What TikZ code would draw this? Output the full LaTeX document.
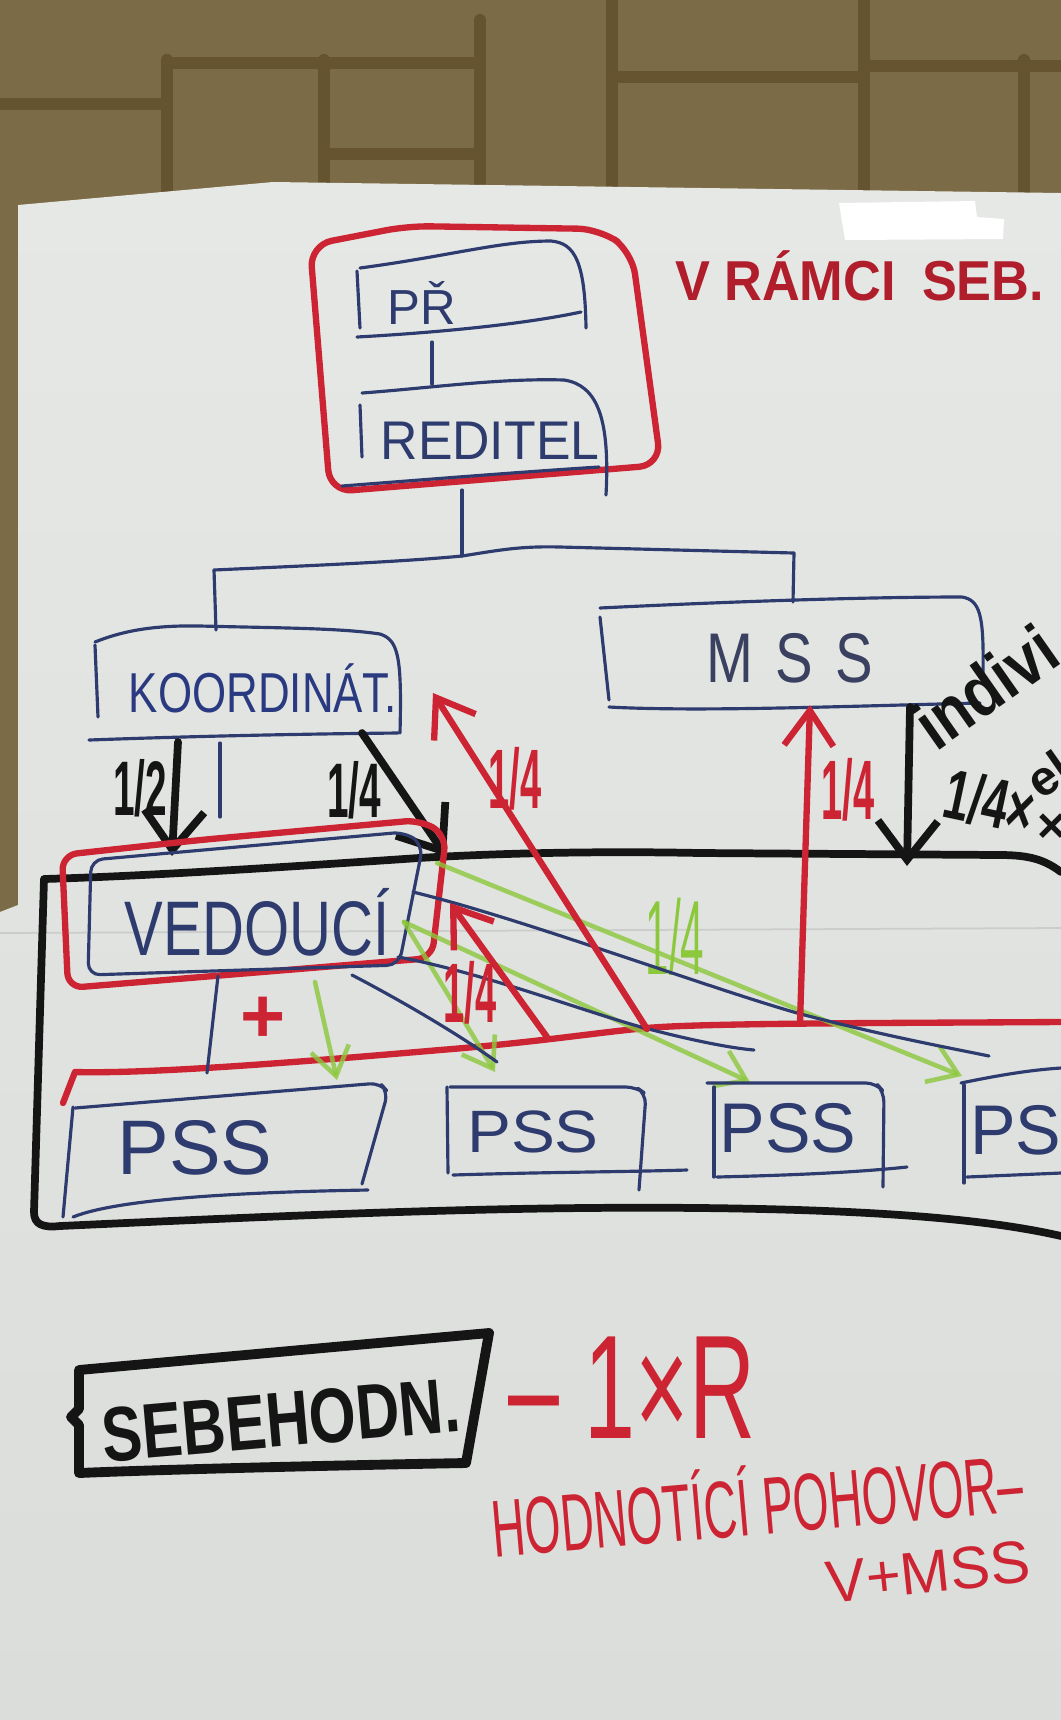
\documentclass[tikz,border=0pt]{standalone}
\usepackage{fontspec}
\setmainfont{Liberation Sans}
\usetikzlibrary{arrows.meta}
\definecolor{wallc}{HTML}{7C6B47}
\definecolor{walld}{HTML}{65542F}
\definecolor{papert}{HTML}{E6E8E5}
\definecolor{paperb}{HTML}{DADDD9}
\definecolor{penblue}{HTML}{2E3B6E}
\definecolor{txtblue}{HTML}{2A3A80}
\definecolor{penred}{HTML}{CD2434}
\definecolor{darkred}{HTML}{B01E2C}
\definecolor{penblack}{HTML}{151515}
\definecolor{pengreen}{HTML}{8CC83C}
\definecolor{mssgrey}{HTML}{3A4060}
\newcommand{\hwt}[3]{\scalebox{#1}[1]{\fontsize{#2}{#2}\selectfont #3}}
\begin{document}
\begin{tikzpicture}[x=0.01cm,y=-0.01cm,
 bluepen/.style={draw=penblue,line width=0.9pt,line cap=round,line join=round},
 redpen/.style={draw=penred,line width=1.8pt,line cap=round,line join=round},
 blackpen/.style={draw=penblack,line width=2.2pt,line cap=round,line join=round},
 greenpen/.style={draw=pengreen,line width=1.3pt,line cap=round,opacity=0.8},
 wallline/.style={draw=walld,line width=3.5pt,line cap=round},
 lbl/.style={inner sep=0pt,outer sep=0pt},
 blackhead/.style={-{Straight Barb[length=11pt,width=17pt]}},
 redhead/.style={-{Straight Barb[length=10pt,width=14pt]}},
 greenhead/.style={-{Straight Barb[length=8pt,width=11pt]}}]
\useasboundingbox (0,0) rectangle (1061,1720);
\clip (0,0) rectangle (1061,1720);
% wall
\fill[wallc] (0,0) rectangle (1061,1720);
\draw[wallline] (167,60) -- (167,200);
\draw[wallline] (324,60) -- (324,200);
\draw[wallline] (480,20) -- (480,200);
\draw[wallline] (612,0) -- (612,200);
\draw[wallline] (864,0) -- (864,200);
\draw[wallline] (1024,60) -- (1024,200);
\draw[wallline] (167,63) -- (480,63);
\draw[wallline] (324,154) -- (480,154);
\draw[wallline] (612,77) -- (864,77);
\draw[wallline] (864,66) -- (1061,66);
\draw[wallline] (0,104) -- (167,104);
% paper
\shade[top color=papert,bottom color=paperb] (18,205) -- (273,182) -- (1061,193) -- (1061,1720) -- (0,1720) -- (0,912) -- (18,905) -- cycle;
\draw[draw=black!20,line width=0.5pt] (0,933) -- (1061,928);
% redaction
\fill[white] (839,203) -- (975,201) -- (977,217) -- (1004,219) -- (1003,239) -- (845,240) -- cycle;
% top text
\node[lbl,text=darkred,anchor=base west] (vramci) at (675,300) {\hwt{0.93}{16}{\bfseries V RÁMCI\hspace{8pt}SEB.}};
% red box top
\draw[redpen, rounded corners=0.22cm] (330,492) -- (310,245) -- (408,226) -- (600,229) -- (632,252) -- (661,465) -- cycle;
% PR box
\draw[bluepen] (360,268) .. controls (450,256) and (500,241) .. (551,241) .. controls (575,243) and (585,262) .. (586,328);
\draw[bluepen] (357,337) .. controls (430,333) and (520,325) .. (581,312);
\draw[bluepen] (357,271) -- (360,328);
\node[lbl,text=penblue] (pr) at (422,303) {\hwt{1}{14}{PŘ}};
\coordinate (prB) at (432,342);
\coordinate (redT) at (432,384);
\draw[bluepen] (prB) -- (redT);
% REDITEL box
\draw[bluepen] (362,393) .. controls (430,388) and (500,378) .. (564,380) .. controls (598,385) and (610,420) .. (606,495);
\draw[bluepen] (360,405) -- (362,457);
\draw[bluepen] (342,486) .. controls (420,480) and (520,472) .. (599,467);
\node[lbl,text=penblue] (reditel) at (490,441) {\hwt{0.95}{15.5}{REDITEL}};
% bus
\coordinate (redB) at (462,490);
\coordinate (busC) at (462,556);
\coordinate (busL) at (214,570);
\coordinate (busR) at (794,553);
\coordinate (koT) at (216,630);
\coordinate (mssT) at (793,602);
\draw[bluepen] (redB) -- (busC);
\draw[bluepen] (busL) .. controls (300,566) and (400,562) .. (busC) .. controls (500,550) and (520,546) .. (560,547) -- (busR);
\draw[bluepen] (busL) -- (koT);
\draw[bluepen] (busR) -- (mssT);
% KOORDINAT box
\draw[bluepen] (95,642) .. controls (120,632) and (150,625) .. (200,626) .. controls (280,628) and (340,628) .. (380,634) .. controls (398,640) and (402,655) .. (400,733);
\draw[bluepen] (95,645) -- (98,717);
\draw[bluepen] (89,740) .. controls (200,736) and (300,734) .. (398,733);
\node[lbl,text=txtblue] (koord) at (263,688) {\hwt{0.78}{16}{KOORDINÁT.}};
% MSS box
\draw[bluepen] (600,608) .. controls (700,603) and (850,597) .. (962,597) .. controls (980,600) and (984,615) .. (983,673);
\draw[bluepen] (600,617) -- (609,700);
\draw[bluepen] (609,707) .. controls (700,712) and (850,706) .. (980,703);
\node[lbl,text=mssgrey] (mss) at (790,658) {\hwt{0.8}{20}{M\hspace{8pt}S\hspace{8pt}S}};
% short vertical under KOORDINAT
\coordinate (kv1) at (220,743);
\coordinate (kv2) at (220,817);
\draw[bluepen] (kv1) -- (kv2);
% black big box
\draw[blackpen] (1061,872) .. controls (1045,860) and (1030,855) .. (1000,855) -- (700,853) .. controls (600,851) and (500,853) .. (419,858) .. controls (300,866) and (150,876) .. (44,879) -- (34,1212) .. controls (34,1224) and (42,1228) .. (60,1226) .. controls (300,1215) and (500,1206) .. (700,1208) .. controls (900,1210) and (1000,1222) .. (1061,1236);
% black arrows
\coordinate (a12s) at (178,742);
\coordinate (a12e) at (172,856);
\draw[blackpen, blackhead] (a12s) -- (a12e);
\node[lbl,text=penblack] (l12) at (140,788) {\hwt{0.5}{22}{\bfseries 1/2}};
\coordinate (a14s) at (362,733);
\coordinate (a14e) at (446,856);
\draw[blackpen, blackhead] (a14s) -- (a14e);
\node[lbl,text=penblack] (l14) at (354,790) {\hwt{0.5}{22}{\bfseries 1/4}};
\coordinate (bis) at (910,707);
\coordinate (bie) at (907,866);
\draw[blackpen, blackhead] (bis) -- (bie);
\node[lbl,text=penblack,rotate=35,anchor=base west] (indiv) at (936,752) {\hwt{0.85}{20}{\bfseries indivi}};
\node[lbl,text=penblack,rotate=-12] (quarterx) at (990,802) {\hwt{0.65}{20}{\bfseries 1/4×}};
\node[lbl,text=penblack,rotate=35] (el) at (1048,774) {\hwt{1}{14}{\bfseries el}};
\node[lbl,text=penblack] (xx) at (1052,828) {\hwt{1}{14}{\bfseries ×}};
% red VEDOUCI box
\draw[redpen, rounded corners=0.15cm] (68,988) -- (62,855) -- (200,840) -- (420,820) -- (446,835) -- (432,958) -- cycle;
% blue VEDOUCI box
\draw[bluepen, rounded corners=0.12cm] (88,975) -- (91,860) -- (237,847) -- (405,832) -- (423,845) -- (399,965) -- cycle;
\node[lbl,text=penblue] (ved) at (257,922) {\hwt{0.75}{22}{VEDOUCÍ}};
% red long line
\draw[redpen] (63,1103) -- (75,1072) .. controls (150,1074) and (300,1062) .. (440,1050) .. controls (540,1042) and (600,1032) .. (647,1028) .. controls (700,1023) and (900,1023) .. (1061,1022);
% green arrows
\coordinate (g1s) at (315,982);
\coordinate (g1e) at (337,1080);
\draw[greenpen, greenhead] (g1s) -- (g1e);
\coordinate (gv) at (404,922);
\coordinate (g2e) at (495,1072);
\coordinate (g3e) at (750,1082);
\draw[greenpen, greenhead] (gv) -- (g2e);
\draw[greenpen, greenhead] (gv) -- (g3e);
\coordinate (g4s) at (437,863);
\coordinate (g4e) at (962,1076);
\draw[greenpen, greenhead] (g4s) -- (g4e);
\node[lbl,text=pengreen] (g14) at (675,937) {\hwt{0.4}{30}{1/4}};
% blue diagonal lines
\draw[bluepen] (413,892) .. controls (520,918) and (700,985) .. (797,1013) .. controls (880,1035) and (950,1048) .. (989,1056);
\draw[bluepen] (398,957) .. controls (480,972) and (580,1010) .. (641,1027) .. controls (690,1040) and (730,1048) .. (754,1050);
\draw[bluepen] (352,975) .. controls (400,1000) and (460,1035) .. (497,1062);
% blue vertical to PSS1
\coordinate (vb1) at (218,976);
\coordinate (vb2) at (207,1073);
\draw[bluepen] (vb1) -- (vb2);
\node[lbl,text=penred] (plus) at (263,1020) {\hwt{1}{22}{\bfseries +}};
% red arrows
\coordinate (rls) at (647,1029);
\coordinate (rle) at (433,693);
\draw[redpen, redhead] (rls) -- (rle);
\node[lbl,text=penred] (rl14) at (515,779) {\hwt{0.45}{24}{\bfseries 1/4}};
\coordinate (rms) at (800,1023);
\coordinate (rme) at (810,705);
\draw[redpen, redhead] (rms) -- (rme);
\node[lbl,text=penred] (rm14) at (848,790) {\hwt{0.45}{24}{\bfseries 1/4}};
\coordinate (rss) at (547,1037);
\coordinate (rse) at (450,903);
\draw[redpen, redhead] (rss) -- (rse);
\node[lbl,text=penred] (rs14) at (470,993) {\hwt{0.45}{24}{\bfseries 1/4}};
% PSS boxes
\draw[bluepen, rounded corners=0.1cm] (75,1108) -- (380,1083) -- (388,1092) -- (362,1184);
\draw[bluepen] (368,1190) .. controls (250,1192) and (120,1198) .. (73,1217);
\draw[bluepen] (73,1107) -- (63,1217);
\node[lbl,text=penblue] (pss1) at (195,1148) {\hwt{1}{22}{PSS}};
\draw[bluepen, rounded corners=0.1cm] (450,1087) -- (636,1087) -- (646,1094) -- (639,1190);
\draw[bluepen] (447,1087) -- (448,1173);
\draw[bluepen] (453,1175) .. controls (550,1172) and (620,1172) .. (687,1170);
\node[lbl,text=penblue] (pss2) at (533,1132) {\hwt{1.1}{17}{PSS}};
\draw[bluepen, rounded corners=0.1cm] (707,1083) -- (876,1083) -- (884,1092) -- (883,1187);
\draw[bluepen] (714,1087) -- (714,1177);
\draw[bluepen] (717,1177) .. controls (800,1175) and (860,1172) .. (907,1167);
\node[lbl,text=penblue] (pss3) at (788,1128) {\hwt{0.97}{20}{PSS}};
\draw[bluepen] (961,1083) .. controls (1000,1075) and (1030,1070) .. (1061,1068);
\draw[bluepen] (964,1085) -- (964,1183);
\draw[bluepen] (967,1177) -- (1061,1173);
\node[lbl,text=penblue,anchor=west] (pss4) at (970,1130) {\hwt{0.97}{20}{PSS}};
% SEBEHODN
\draw[blackpen, line width=2.8pt] (79,1370) -- (489,1333) -- (466,1463) .. controls (300,1466) and (150,1470) .. (79,1473) -- (79,1425) -- (71,1417) -- (79,1409) -- cycle;
\node[lbl,text=penblack,rotate=5] (sebe) at (281,1420) {\hwt{0.78}{22}{\bfseries SEBEHODN.}};
\node[lbl,text=penred] (onexr) at (632,1388) {\hwt{0.62}{42}{– 1×R}};
\node[lbl,text=penred,rotate=5] (hodn) at (757,1500) {\hwt{0.57}{23}{HODNOTÍCÍ POHOVOR–}};
\node[lbl,text=penred,rotate=6] (vmss) at (928,1572) {\hwt{1}{17}{V+MSS}};
\end{tikzpicture}
\end{document}
